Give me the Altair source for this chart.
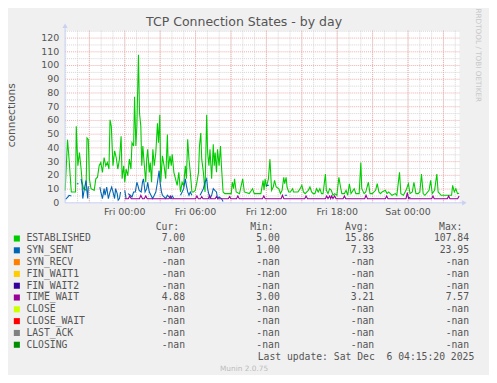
import altair as alt
import pandas as pd

# ---------------- text ----------------
TITLE = "TCP Connection States - by day"
Y_LABEL = "connections"
SIDE_TEXT = "RRDTOOL / TOBI OETIKER"
FOOTER = "Munin 2.0.75"
LAST_UPDATE = "Last update: Sat Dec\u00a0\u00a06 04:15:20 2025"
HEADERS = ["Cur:", "Min:", "Avg:", "Max:"]

# ---------------- axes ----------------
x_tick_hours = [0, 6, 12, 18, 24]
x_tick_labels = ["Fri 00:00", "Fri 06:00", "Fri 12:00", "Fri 18:00", "Sat 00:00"]
y_ticks = [0, 10, 20, 30, 40, 50, 60, 70, 80, 90, 100, 110, 120]
minor_x = [-5, -4, -3, -2, -1, 0, 1, 2, 3, 4, 5, 6, 7, 8, 9, 10, 11, 12, 13, 14,
           15, 16, 17, 18, 19, 20, 21, 22, 23, 24, 25, 26, 27, 28]
major_x = [-3, 0, 3, 6, 9, 12, 15, 18, 21, 24, 27]
minor_y = [5, 15, 25, 35, 45, 55, 65, 75, 85, 95, 105, 115, 125]
major_y = [10, 20, 30, 40, 50, 60, 70, 80, 90, 100, 110, 120]

# ---------------- legend table ----------------
names = ["ESTABLISHED", "SYN_SENT", "SYN_RECV", "FIN_WAIT1", "FIN_WAIT2",
         "TIME_WAIT", "CLOSE", "CLOSE_WAIT", "LAST_ACK", "CLOSING"]
colors = ["#00CC00", "#0066B3", "#FF8000", "#FFCC00", "#330099",
          "#990099", "#CCFF00", "#FF0000", "#808080", "#008F00"]
cur = ["7.00", "-nan", "-nan", "-nan", "-nan", "4.88", "-nan", "-nan", "-nan", "-nan"]
mins = ["5.00", "1.00", "-nan", "-nan", "-nan", "3.00", "-nan", "-nan", "-nan", "-nan"]
avgs = ["15.86", "7.33", "-nan", "-nan", "-nan", "3.21", "-nan", "-nan", "-nan", "-nan"]
maxs = ["107.84", "23.95", "-nan", "-nan", "-nan", "7.57", "-nan", "-nan", "-nan", "-nan"]

# ---------------- series (hours relative to Fri 00:00) ----------------
est_h = [-5.05, -4.85, -4.72, -4.53, -4.17, -4.11, -3.975, -3.84, -3.70, -3.61, -3.50,
         -3.28, -3.20, -3.09, -3.00, -2.86, -2.59, -2.45, -2.31, -2.17, -2.03, -1.89,
         -1.75, -1.61, -1.475, -1.34, -1.25, -1.14, -1.00, -0.86, -0.725, -0.59, -0.45,
         -0.31, -0.225, -0.09, 0.00, 0.11, 0.25, 0.39, 0.525, 0.61, 0.75, 0.83, 0.94,
         1.025, 1.16, 1.25, 1.36, 1.44, 1.53, 1.66, 1.775, 1.86,
         1.94, 2.08, 2.16, 2.27, 2.38, 2.50, 2.63, 2.77, 2.86, 2.97, 3.05, 3.19, 3.33,
         3.47, 3.61, 3.69, 3.83, 3.94, 4.02, 4.16, 4.30, 4.44, 4.58, 4.72, 4.86, 4.99,
         5.13, 5.22, 5.33, 5.44, 5.55, 5.69, 5.83, 5.97, 6.11, 6.25, 6.33, 6.44, 6.52,
         6.66, 6.80, 6.94, 7.02, 7.13, 7.22, 7.36, 7.50, 7.58, 7.66, 7.77, 7.86, 7.99,
         8.11, 8.19, 8.33, 8.47, 8.75, 9.02, 9.11, 9.22, 9.30, 9.44, 9.72, 9.99, 10.13,
         10.55, 10.83, 10.97, 11.25, 11.53, 11.72, 11.80, 11.89, 12.00, 12.17, 12.30,
         12.44, 12.58, 12.69, 12.83, 13.05, 13.19, 13.33, 13.47, 13.55, 13.67, 13.75,
         13.89, 14.03, 14.22, 14.30, 14.67, 14.86, 15.00, 15.14, 15.28, 15.55, 15.69,
         15.83, 15.97, 16.11, 16.25, 16.39, 16.53, 16.67, 16.80, 17.00, 17.08, 17.22,
         17.36, 17.50, 17.64, 17.78, 17.97, 18.14, 18.28, 18.39, 18.61, 18.75, 18.89,
         19.03, 19.17, 19.44, 19.58, 19.86, 20.00, 20.08, 20.28, 20.42, 20.64, 20.78,
         20.97, 21.25, 21.39, 21.53, 21.67, 21.80, 22.08, 22.22, 22.36, 22.50, 22.64,
         22.92, 23.05, 23.28, 23.39, 23.61, 23.83, 24.03, 24.17, 24.36, 24.50, 24.67,
         24.86, 25.00, 25.14, 25.28, 25.42, 25.55, 25.78, 25.92, 26.05, 26.25, 26.44,
         26.55, 26.80, 27.36, 27.69, 27.78, 27.92, 28.05, 28.19, 28.33]
est_v = [9, 46, 31.8, 7.9, 7.9, 55.7, 27, 36.6, 24.6, 15, 10.3,
         9.1, 47.3, 46.2, 17.5, 10.3, 9.1, 17.5, 18.7, 27, 29.4, 22.2,
         33, 27, 29.4, 24.6, 60.5, 55.7, 27, 37.8, 33, 24.6, 31.8,
         48.5, 17.5, 27, 15, 24.6, 19.8, 31.8, 24.6, 43.7, 41.4, 77.2, 41.4,
         55.7, 107.8, 65.2, 55.7, 27, 41.4, 27, 15, 31.8,
         39, 22.2, 29.4, 15, 39, 27, 36.6, 58, 43.7, 64.1, 15, 34.2, 27,
         17.5, 49.8, 24.6, 34.2, 27, 35.4, 22.2, 17.5, 12.7, 22.2, 7.9, 15, 12.7,
         27, 17.5, 46.2, 31.8, 22.2, 7.9, 7.9, 9.1, 15, 22.2, 41.4, 50.9, 31.8,
         22.2, 7.9, 64.1, 36.6, 27, 39, 17.5, 42.6, 27, 36.6, 22.2, 39, 27,
         41.4, 27, 7.9, 6.7, 6.7, 6.7, 15, 10.3, 17.5, 7.9, 6.7, 17.5, 7.9,
         6.7, 10.3, 6.7, 6.7, 6.7, 16.3, 9.1, 17.5, 11.5, 17.5, 31.8,
         9.1, 11.5, 16.3, 11.5, 10.3, 6.7, 9.1, 18.6, 13.9, 18.6, 11.5,
         7.9, 7.9, 10.3, 7.9, 7.9, 10.3, 12.7, 7.9, 6.7, 9.1, 11.5,
         7.9, 6.7, 6.7, 10.3, 7.9, 10.3, 6.7, 6.7, 21, 9.1, 6.7,
         10.3, 9.1, 5.5, 6.7, 5.5, 18.6, 11.5, 6.7, 6.7, 9.1, 5.5,
         13.9, 6.7, 10.3, 6.7, 6.7, 29.4, 10.3, 6.7, 7.9, 15, 6.7,
         6.7, 9.1, 13.9, 7.9, 6.7, 7.9, 9.1, 6.7, 7.9, 6.7, 5.5,
         6.7, 5.5, 22.2, 6.7, 5.5, 9.1, 13.9, 6.7, 7.9, 15, 6.7,
         6.7, 7.9, 21, 6.7, 5.5, 6.7, 9.1, 16.3, 6.7, 9.1, 21,
         7.9, 5.5, 5.5, 5.5, 12.7, 7.9, 10.3, 6.7, 7.0]

syn_h = [-5.02, -4.81, -4.72, -4.53, -4.40, -4.06, -3.92, -3.85, -3.70, -3.61, -3.56,
         -3.42, -3.28, -3.20, -3.14, -3.09, -2.80, -2.11, -2.03, -1.89, -1.75, -1.67,
         -1.53, -1.39, -1.25, -1.11, -1.00, -0.86, -0.78, -0.64, -0.56, -0.45, -0.36,
         -0.20, 0.00, 0.11, 0.19, 0.275, 0.47, 0.61, 0.75, 0.89, 1.025, 1.11, 1.22,
         1.39, 1.50, 1.58, 1.72, 1.86, 1.94, 2.08, 2.22, 2.36, 2.50, 2.63, 2.77, 2.91,
         2.99, 3.11, 3.19, 3.33, 3.47, 3.61, 3.75, 3.88, 4.02, 4.16, 4.40, 4.72, 4.86,
         4.99, 5.13, 5.22, 5.33, 5.44, 5.55, 5.69, 6.00, 6.38, 6.52, 6.66, 6.80, 6.94,
         7.02, 7.11, 7.22, 7.36, 7.50, 7.63, 7.77, 7.86, 7.99, 8.19, 8.33, 8.50,
         11.95, 12.20, 12.40, 13.55, 13.75, 13.90, 24.00, 24.20]
syn_v = [2.5, 4.3, 5.5, 5.0, None, 13.9, 13.9, None, 17.5, 12.7, 3.1,
         10.3, 16.3, 7.9, 3.1, 12, None, 11.5, 7.9, 3.1, 10.3, 5.5,
         11.5, 3.1, 7.9, 11.5, 7.9, 3.1, 10.3, 6.7, 1.9, 3.1, 7.9,
         None, 9.1, 3.1, None, 6.7, 5.5, 4.3, 7.9, 7.9, 15, 12.7, 9.1,
         7.9, 15, 17.5, 7.9, 10.3, 15, 7.9, 5.5, 3.1, 5.5, 7.9, 15, 23.4,
         15, 7.9, 5.5, 4.3, 3.1, 5.5, 4.3, 3.1, 5.0, 3.1, None, 5.5, 7.9,
         10.3, 17.5, 12.7, 7.9, 5.5, 7.9, 5.5, None, 5.5, 7.9, 10.3, 15, 17.5,
         10.3, 6.7, 3.1, 5.5, 10.3, 9.1, 7.9, 3.1, 4.3, 3.1, 1.0, None,
         12.7, 12.7, None, 5.5, 5.5, None, 3.9, 3.9]

tw_h = [0.00, 0.30, 0.42, 0.55, 1.25, 1.36, 1.50, 1.65, 1.78, 1.90, 3.75, 3.86, 3.98,
        6.00, 6.11, 6.23, 6.42, 6.52, 6.63, 7.08, 7.19, 7.30, 7.66, 7.77, 7.88,
        8.77, 8.88, 8.99, 9.47, 9.58, 9.70, 11.67, 11.78, 11.90, 13.25, 13.36, 13.48,
        15.25, 15.36, 15.48, 17.00, 17.11, 17.22, 17.36, 17.45, 17.53, 17.64, 17.78,
        17.90, 18.50, 18.61, 18.72, 20.33, 20.44, 20.56, 22.08, 22.19, 22.30, 23.83,
        23.94, 24.05, 26.00, 26.11, 26.22, 27.33, 27.44, 27.55, 28.20, 28.33]
tw_v = [3, 3, 5, 3, 3, 5.5, 3, 3, 5, 3, 3, 5, 3,
        3, 5, 3, 3, 4.5, 3, 3, 5.5, 3, 3, 4.5, 3,
        3, 4.5, 3, 3, 5, 3, 3, 5, 3, 3, 5.5, 3,
        3, 5, 3, 3, 5, 3, 5, 3, 5, 3, 5,
        3, 3, 5, 3, 3, 5.5, 3, 3, 5, 3, 3,
        7.5, 3, 3, 5, 3, 3, 5, 3, 3, 4.88]

# ---------------- build tables ----------------
lines = pd.concat([
    pd.DataFrame({"h": est_h, "v": est_v, "s": "ESTABLISHED"}),
    pd.DataFrame({"h": syn_h, "v": syn_v, "s": "SYN_SENT"}),
    pd.DataFrame({"h": tw_h, "v": tw_v, "s": "TIME_WAIT"}),
], ignore_index=True)

legend = pd.DataFrame({"name": names, "color": colors, "cur": cur, "mn": mins,
                       "avg": avgs, "mx": maxs, "i": list(range(len(names)))})

W, H = 401, 175
x_scale = alt.Scale(domain=[-5.06, 28.36], nice=False, zero=False)
y_scale = alt.Scale(domain=[0, 125.4], nice=False, zero=False)

GRID_GRAY = "#D4D4D4"
GRID_RED = "#F2AAAA"
AXIS_COL = "#C8D0F4"
TXT = "#555555"
MONO = "DejaVu Sans Mono"
SANS = "DejaVu Sans"


def vrules(vals, color):
    return alt.Chart(pd.DataFrame({"h": vals})).mark_rule(
        color=color, strokeDash=[1, 1], strokeWidth=1
    ).encode(x=alt.X("h:Q", scale=x_scale, axis=None))


def hrules(vals, color):
    return alt.Chart(pd.DataFrame({"v": vals})).mark_rule(
        color=color, strokeDash=[1, 1], strokeWidth=1
    ).encode(y=alt.Y("v:Q", scale=y_scale, axis=None))


base = alt.Chart(lines)


def series_layer(name, color):
    return base.transform_filter(alt.datum.s == name).mark_line(
        color=color, strokeWidth=1.1, invalid="break-paths-show-domains"
    ).encode(x=alt.X("h:Q", scale=x_scale, axis=None),
             y=alt.Y("v:Q", scale=y_scale, axis=None),
             order="h:Q")


# tick labels drawn through the scales
x_labels = alt.Chart(pd.DataFrame({"h": x_tick_hours, "lab": x_tick_labels})).mark_text(
    align="center", baseline="middle", font=SANS, fontSize=9.6, color=TXT
).encode(x=alt.X("h:Q", scale=x_scale, axis=None), y=alt.value(H + 9.7), text="lab:N")

y_labels = alt.Chart(pd.DataFrame({"v": y_ticks})).mark_text(
    align="right", baseline="middle", font=SANS, fontSize=9.6, color=TXT
).encode(y=alt.Y("v:Q", scale=y_scale, axis=None), x=alt.value(-6), text="v:Q")

# axis lines and arrows
one = pd.DataFrame({"k": [0]})
y_axis_line = alt.Chart(one).mark_rule(color=AXIS_COL, strokeWidth=1).encode(
    x=alt.value(0), y=alt.value(H), y2=alt.value(-5))
x_axis_line = alt.Chart(one).mark_rule(color=AXIS_COL, strokeWidth=1).encode(
    x=alt.value(0), x2=alt.value(W + 5), y=alt.value(H))
y_arrow = alt.Chart(one).mark_point(shape="triangle-up", filled=True, size=28,
                                    color=AXIS_COL, opacity=1).encode(
    x=alt.value(0), y=alt.value(-5))
x_arrow = alt.Chart(one).mark_point(shape="triangle-right", filled=True, size=28,
                                    color=AXIS_COL, opacity=1).encode(
    x=alt.value(W + 5), y=alt.value(H))


def single_text(txt, x, y, size, color=TXT, font=SANS, align="center", angle=0):
    kw = dict(align=align, baseline="middle", font=font, fontSize=size, color=color)
    if angle:
        kw["angle"] = angle
    return alt.Chart(pd.DataFrame({"t": [txt]})).mark_text(**kw).encode(
        text="t:N", x=alt.value(x), y=alt.value(y))


title = single_text(TITLE, 182, -8.7, 12.7)
ylab = single_text(Y_LABEL, -54, 86, 10.8, angle=270)
side = single_text(SIDE_TEXT, 420, 25, 7.4, color="#C8C8C8", angle=90)
footer = single_text(FOOTER, 182, 344, 7.5, color="#BBBBBB")
last_upd = single_text(LAST_UPDATE, 416, 331.3, 9.9, font=MONO, align="right")

hdr_x = [116, 212, 308.5, 404]
headers = alt.layer(*[single_text(t, xx, 199.3, 9.9, font=MONO, align="right")
                      for t, xx in zip(HEADERS, hdr_x)])

leg = alt.Chart(legend).transform_calculate(py="211.3 + 12 * datum.i")
leg_sq = leg.mark_square(size=38, opacity=1, filled=True).encode(
    x=alt.value(-49), y=alt.Y("py:Q", scale=None, axis=None),
    color=alt.Color("color:N", scale=None))


def leg_col(field, x, align):
    return leg.mark_text(align=align, baseline="middle", font=MONO, fontSize=9.9,
                         color=TXT).encode(
        x=alt.value(x), y=alt.Y("py:Q", scale=None, axis=None), text=f"{field}:N")


leg_names = leg_col("name", -39.3, "left")
leg_cur = leg_col("cur", 122, "right")
leg_min = leg_col("mn", 218.3, "right")
leg_avg = leg_col("avg", 314.3, "right")
leg_max = leg_col("mx", 410.7, "right")

chart = alt.layer(
    vrules(minor_x, GRID_GRAY), hrules(minor_y, GRID_GRAY),
    vrules(major_x, GRID_RED), hrules(major_y, GRID_RED),
    series_layer("ESTABLISHED", "#00CC00"),
    series_layer("SYN_SENT", "#0066B3"),
    series_layer("TIME_WAIT", "#990099"),
    x_labels, y_labels,
    y_axis_line, x_axis_line, y_arrow, x_arrow,
    title, ylab, side, footer, last_upd, headers,
    leg_sq, leg_names, leg_cur, leg_min, leg_avg, leg_max,
).properties(
    width=W, height=H,
    autosize=alt.AutoSizeParams(type="none"),
    padding={"left": 58, "top": 20, "right": 30, "bottom": 172},
    background="#F0F0F0",
).configure_view(fill="white", stroke=None)

chart.save("out.html", embed_options={"renderer": "svg", "actions": False})
